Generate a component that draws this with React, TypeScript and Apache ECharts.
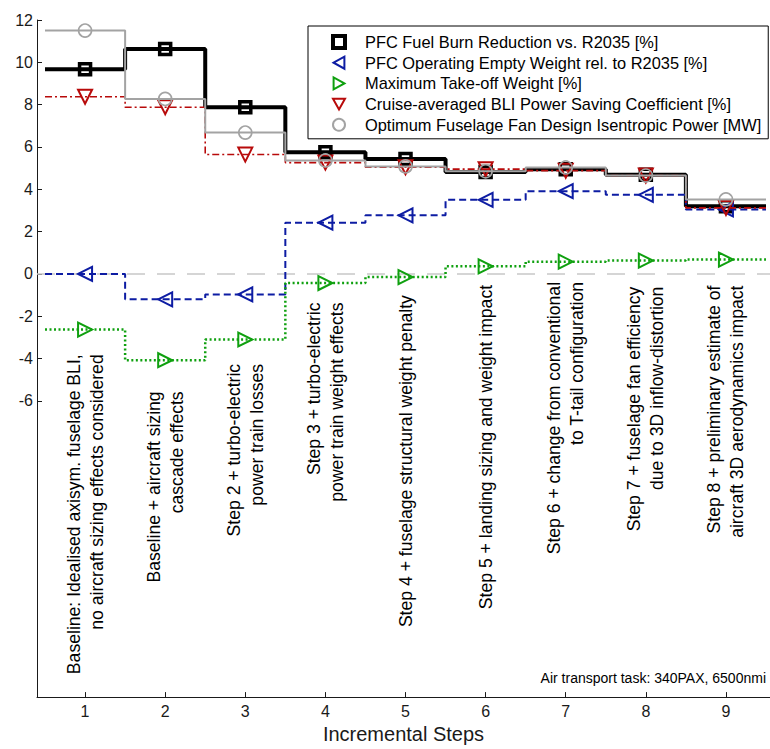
import React, { useEffect, useRef } from "react";
import * as echarts from "echarts";

const steps = [1, 2, 3, 4, 5, 6, 7, 8, 9];
const fuelBurn = [9.67, 10.63, 7.88, 5.75, 5.43, 4.82, 4.95, 4.69, 3.2];
const oew = [0, -1.2, -0.97, 2.42, 2.77, 3.5, 3.91, 3.74, 3.05];
const mtow = [-2.63, -4.08, -3.1, -0.43, -0.15, 0.36, 0.58, 0.63, 0.68];
const bliCoeff = [8.37, 7.88, 5.64, 5.26, 5.04, 4.95, 4.88, 4.65, 3.12];
const fanPower = [11.5, 8.27, 6.68, 5.36, 5.08, 4.85, 5.03, 4.65, 3.52];

const seriesNames = [
  "PFC Fuel Burn Reduction vs. R2035 [%]",
  "PFC Operating Empty Weight rel. to R2035 [%]",
  "Maximum Take-off Weight [%]",
  "Cruise-averaged BLI Power Saving Coefficient [%]",
  "Optimum Fuselage Fan Design Isentropic Power [MW]",
];

const stepLabels = [
  "Baseline: Idealised axisym. fuselage BLI,\nno aircraft sizing effects considered",
  "Baseline + aircraft sizing\ncascade effects",
  "Step 2 + turbo-electric\npower train losses",
  "Step 3 + turbo-electric\npower train weight effects",
  "Step 4 + fuselage structural weight penalty",
  "Step 5 + landing sizing and weight impact",
  "Step 6 + change from conventional\nto T-tail configuration",
  "Step 7 + fuselage fan efficiency\ndue to 3D inflow-distortion",
  "Step 8 + preliminary estimate of\naircraft 3D aerodynamics impact",
];
// y value (data units) of the top end of each rotated step annotation
const stepLabelTop = [-3.8, -5.55, -4.25, -1.35, -1.0, -0.52, -0.38, -0.6, -0.55];

const yTickValues = [-6, -4, -2, 0, 2, 4, 6, 8, 10, 12];
const noteText = "Air transport task: 340PAX, 6500nmi";

const FONT = "'Liberation Sans', Arial, Helvetica, sans-serif";

const legendIcons = [
  "rect",
  "path://M0,5L9,0L9,10Z",
  "path://M9,5L0,0L0,10Z",
  "path://M0,0L10,0L5,9Z",
  "circle",
];

function stepData(vals: number[]) {
  const pts: any[] = [];
  vals.forEach((v, i) => {
    const x = steps[i];
    pts.push({ value: [x - 0.5, v], symbol: "none" });
    pts.push({ value: [x, v] });
    pts.push({ value: [x + 0.5, v], symbol: "none" });
  });
  return pts;
}

export default function App() {
  const ref = useRef<HTMLDivElement>(null);
  useEffect(() => {
    if (!ref.current) return;
    const chart = echarts.init(ref.current, undefined, { renderer: "svg" });

    const defs = [
      { name: seriesNames[0], vals: fuelBurn, color: "#000000", width: 4, type: "solid" as any, symbol: "rect", rot: 0, size: 11, bw: 3.5 },
      { name: seriesNames[1], vals: oew, color: "#0d1ca3", width: 2, type: [7, 4], symbol: "triangle", rot: 90, size: 14, bw: 2 },
      { name: seriesNames[2], vals: mtow, color: "#0fa00f", width: 2.5, type: [2, 2.5], symbol: "triangle", rot: -90, size: 14, bw: 2 },
      { name: seriesNames[3], vals: bliCoeff, color: "#b80a0a", width: 1.6, type: [7, 3, 2, 3], symbol: "triangle", rot: 180, size: 14, bw: 2 },
      { name: seriesNames[4], vals: fanPower, color: "#a3a3a3", width: 2, type: "solid", symbol: "circle", rot: 0, size: 13, bw: 1.6 },
    ];

    const series: any[] = defs.map((d, i) => ({
      name: d.name,
      type: "line",
      data: stepData(d.vals),
      symbol: d.symbol,
      symbolSize: d.size,
      symbolRotate: d.rot,
      showAllSymbol: true,
      lineStyle: { color: d.color, width: d.width, type: d.type },
      itemStyle: { color: "rgba(255,255,255,0)", borderColor: d.color, borderWidth: d.bw },
      emphasis: { disabled: true },
      z: 2 + i,
      markLine:
        i === 0
          ? {
              silent: true,
              symbol: "none",
              label: { show: false },
              lineStyle: { color: "#c8c8c8", type: [18, 12], width: 1.5 },
              data: [{ yAxis: 0 }],
              z: 1,
            }
          : undefined,
    }));

    chart.setOption({
      animation: false,
      grid: { left: 37, right: 0, top: 20, bottom: 44 },
      xAxis: {
        type: "value",
        min: 0.4,
        max: 9.55,
        name: "Incremental Steps",
        nameLocation: "middle",
        nameGap: 25,
        nameTextStyle: { fontSize: 20, fontFamily: FONT, color: "#1a1a1a" },
        axisLine: { show: true, onZero: false, lineStyle: { color: "#1a1a1a", width: 1 } },
        axisTick: { show: true, inside: true, length: 5, customValues: steps, lineStyle: { color: "#1a1a1a" } },
        axisLabel: { customValues: steps, fontSize: 16, fontFamily: FONT, color: "#1a1a1a", margin: 6 },
        splitLine: { show: false },
      },
      yAxis: {
        type: "value",
        min: -20,
        max: 12,
        interval: 2,
        axisLine: { show: true, lineStyle: { color: "#1a1a1a", width: 1 } },
        axisTick: { show: true, inside: true, length: 5, customValues: yTickValues, lineStyle: { color: "#1a1a1a" } },
        axisLabel: { customValues: yTickValues, fontSize: 16, fontFamily: FONT, color: "#1a1a1a", margin: 4 },
        splitLine: { show: false },
      },
      legend: {
        orient: "vertical",
        left: 308,
        top: 26,
        padding: [8, 7, 6, 23],
        itemWidth: 12,
        itemHeight: 12,
        itemGap: 4.7,
        borderColor: "#000",
        borderWidth: 1,
        backgroundColor: "#fff",
        z: 20,
        textStyle: { fontSize: 16.4, lineHeight: 16, fontFamily: FONT, color: "#000", padding: [0, 0, 0, 15] },
        data: defs.map((d, i) => ({
          name: d.name,
          icon: legendIcons[i],
          itemStyle: { color: "rgba(255,255,255,0)", borderColor: d.color, borderWidth: i === 0 ? 4 : 2 },
        })),
      },
      series,
    });

    const graphics: any[] = steps.map((s, i) => {
      const p = chart.convertToPixel({ xAxisIndex: 0, yAxisIndex: 0 }, [s, stepLabelTop[i]]) as number[];
      return {
        type: "text",
        x: p[0],
        y: p[1],
        rotation: Math.PI / 2,
        silent: true,
        style: {
          text: stepLabels[i],
          fill: "#000",
          font: `17.6px ${FONT}`,
          align: "right",
          verticalAlign: "middle",
          lineHeight: 23,
        },
        z: 10,
      };
    });
    graphics.push({
      type: "text",
      right: 4,
      top: 671,
      silent: true,
      style: { text: noteText, fill: "#000", font: `14px ${FONT}` },
      z: 10,
    });
    chart.setOption({ graphic: graphics });

    return () => chart.dispose();
  }, []);

  return (
    <div
      ref={ref}
      style={{ position: "fixed", left: 0, top: 0, width: 770, height: 749, background: "#fff" }}
    />
  );
}
